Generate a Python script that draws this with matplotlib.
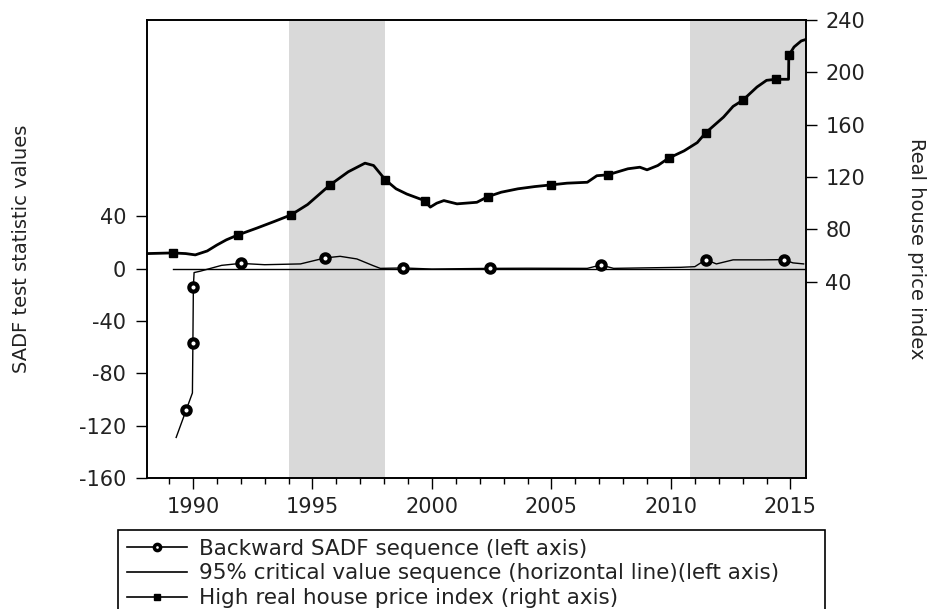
import numpy as np
import matplotlib.pyplot as plt
from matplotlib.lines import Line2D

plt.rcParams['axes.unicode_minus'] = False

# high real house price index (right axis)
price_years = [1988.08, 1989.15, 1989.7, 1990.1, 1990.6, 1991.0, 1991.4, 1991.88,
               1992.68, 1993.4, 1994.1, 1994.8, 1995.74, 1996.5, 1997.2, 1997.56,
               1998.05, 1998.5, 1998.95, 1999.69, 1999.93, 2000.2, 2000.5, 2001.05,
               2001.88, 2002.34, 2002.9, 2003.6, 2004.3, 2004.99, 2005.65, 2006.5,
               2006.9, 2007.36, 2008.2, 2008.7, 2009.0, 2009.45, 2009.9, 2010.55,
               2011.1, 2011.46, 2012.2, 2012.6, 2013.0, 2013.6, 2014.0, 2014.39,
               2014.92, 2014.93, 2015.15, 2015.45, 2015.62]
price_vals = [61.5, 62, 61.5, 60.5, 63.5, 68, 72, 75.7,
              81, 86, 91, 99, 114, 124, 130.6, 128.8,
              117.9, 111, 107, 102, 97, 100, 102, 99.5,
              100.7, 105, 108.4, 111, 112.7, 114, 115.3, 116,
              121, 121.7, 126.3, 127.5, 125.5, 128.8, 134.4, 140,
              146.3, 153.9, 165.8, 174, 178.6, 188.8, 193.9, 194.7,
              194.7, 213, 219.4, 224, 225]
price_marks = [1, 7, 10, 12, 16, 19, 25, 29, 33, 38, 41, 44, 47, 49]

# backward SADF sequence (left axis)
sadf_years = [1989.3, 1989.72, 1989.98, 1990.0, 1990.02, 1990.05, 1990.3, 1990.6,
              1991.0, 1991.2, 1992.0, 1993.0, 1994.5, 1995.54, 1996.16, 1996.86,
              1997.54, 1997.84, 1998.81, 2000.0, 2002.44, 2004.0, 2006.5, 2007.07,
              2007.6, 2010.4, 2011.0, 2011.46, 2011.9, 2012.6, 2013.9, 2014.71,
              2015.1, 2015.55]
sadf_vals = [-129, -108, -95, -56.7, -13.8, -3, -2, -0.5,
             1.5, 2.5, 4, 3, 3.6, 8.2, 9.4, 7.4,
             2.3, 0.2, 0.5, -0.3, 0.2, 0.3, 0.2, 2.8,
             0.2, 1, 1.5, 6.9, 3.6, 6.7, 6.7, 6.9,
             4.4, 3.6]
sadf_marks = [1, 3, 4, 10, 13, 18, 20, 23, 27, 31]

# 95% critical value sequence
crit_years = [1989.16, 2015.62]
crit_vals = [0, 0]

# shaded bubble periods
shade_start = [1994.0, 2010.8]
shade_end = [1998.05, 2015.65]

fs = 15
fig = plt.figure(figsize=(9.35, 6.09), dpi=100)
ax = fig.add_axes([147/935, 1 - 478/609, 659/935, 458/609])
ax2 = ax.twinx()

for s, e in zip(shade_start, shade_end):
    ax.axvspan(s, e, color='#d9d9d9', lw=0, zorder=0)

ax.plot(crit_years, crit_vals, color='black', lw=1.0)
ax.plot(sadf_years, sadf_vals, color='black', lw=1.0, marker='o', ms=6,
        mfc='white', mec='black', mew=3, markevery=sadf_marks)
ax2.plot(price_years, price_vals, color='black', lw=2.0, marker='s', ms=5.5,
         markevery=price_marks)

ax.set_xlim(1988.08, 2015.65)
ax.set_ylim(-160, 190)
ax2.set_ylim(-110, 240)
ax.set_xticks(range(1990, 2016, 5))
ax.set_xticks(range(1989, 2016), minor=True)
ax.set_yticks(range(-160, 41, 40))
ax2.set_yticks(range(40, 241, 40))

ax.tick_params(axis='x', which='major', direction='out', length=8, width=1,
               labelsize=fs, pad=6, labelcolor='#222222')
ax.tick_params(axis='x', which='minor', direction='out', length=4.5, width=1)
ax.tick_params(axis='y', direction='out', length=8, width=1, labelsize=fs,
               pad=7, labelcolor='#222222')
ax2.tick_params(axis='y', direction='out', length=8, width=1, labelsize=fs,
                pad=6, labelcolor='#222222')
for a in (ax, ax2):
    for sp in a.spines.values():
        sp.set_linewidth(1.2)

ax.set_ylabel("SADF test statistic values", fontsize=14, color='#222222',
              va='center')
ax.yaxis.set_label_coords(-0.19, 0.5)
ax2.set_ylabel("Real house price index", fontsize=14, color='#222222',
               rotation=270, va='center')
ax2.yaxis.set_label_coords(1.167, 0.5)

handles = [
    Line2D([], [], color='black', lw=1.2, marker='o', ms=4.5, mfc='white', mew=2.5),
    Line2D([], [], color='black', lw=1.2),
    Line2D([], [], color='black', lw=1.2, marker='s', ms=5),
]
labels = ["Backward SADF sequence (left axis)",
          "95% critical value sequence (horizontal line)(left axis)",
          "High real house price index (right axis)"]
leg = fig.legend(handles, labels, loc='upper left', mode='expand',
                 bbox_to_anchor=(118/935, 0, 707/935, 1 - 530/609),
                 fontsize=15.5, numpoints=1, handlelength=2.8, handletextpad=0.55,
                 labelspacing=0.22, borderpad=0.4, borderaxespad=0,
                 fancybox=False, edgecolor='black', framealpha=1)
leg.get_frame().set_linewidth(1.2)
for t in leg.get_texts():
    t.set_color('#222222')

fig.savefig("out.png", dpi=100)
